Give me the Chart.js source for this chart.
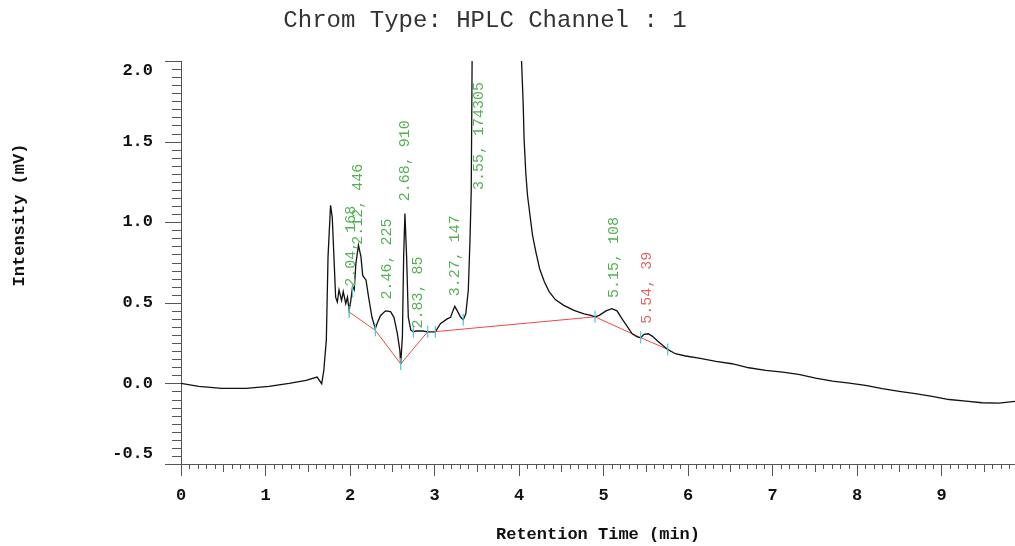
<!DOCTYPE html>
<html>
<head>
<meta charset="utf-8">
<script src="https://cdn.jsdelivr.net/npm/chart.js@4.4.0/dist/chart.umd.min.js"></script>
<style>
  html, body { margin: 0; padding: 0; background: #fff; }
</style>
</head>
<body>
<canvas id="chrom" width="1015" height="546"></canvas>
<script>
// detector trace (retention time in min, intensity in mV)
var retTime = [
  0.00, 0.21, 0.48, 0.77, 1.04, 1.28, 1.48, 1.61, 1.665, 1.69,
  1.72, 1.74, 1.77, 1.79, 1.81, 1.83, 1.85, 1.87, 1.90, 1.92,
  1.95, 1.97, 1.99, 2.01, 2.03, 2.05, 2.07, 2.10, 2.13, 2.15,
  2.19, 2.22, 2.26, 2.30, 2.32, 2.36, 2.42, 2.48, 2.52, 2.56,
  2.59, 2.60, 2.62, 2.635, 2.65, 2.67, 2.69, 2.72, 2.75, 2.78,
  2.86, 2.92, 3.01, 3.07, 3.15, 3.19, 3.22, 3.24, 3.27, 3.31,
  3.34, 3.37, 3.40, 3.42, 3.435, 3.46, 3.55, 3.80, 4.03, 4.05,
  4.06, 4.08, 4.10, 4.13, 4.16, 4.20, 4.245, 4.30, 4.355, 4.43,
  4.53, 4.65, 4.77, 4.85, 4.90, 4.95, 5.03, 5.10, 5.16, 5.22,
  5.28, 5.34, 5.40, 5.44, 5.48, 5.53, 5.58, 5.64, 5.70, 5.76,
  5.85, 5.97, 6.13, 6.33, 6.52, 6.72, 6.92, 7.12, 7.31, 7.51,
  7.71, 7.91, 8.10, 8.30, 8.50, 8.69, 8.89, 9.09, 9.29, 9.48,
  9.68, 9.87
];
var intensity = [
  0.000, -0.019, -0.031, -0.031, -0.019, 0.000, 0.019, 0.039, -0.002, 0.08,
  0.27, 0.785, 1.105, 1.03, 0.785, 0.535, 0.505, 0.58, 0.515, 0.57,
  0.495, 0.535, 0.453, 0.515, 0.60, 0.58, 0.745, 0.857, 0.785, 0.67,
  0.64, 0.535, 0.41, 0.34, 0.37, 0.42, 0.45, 0.445, 0.41, 0.31,
  0.205, 0.12, 0.29, 0.785, 1.054, 0.785, 0.41, 0.33, 0.32, 0.325,
  0.325, 0.32, 0.32, 0.37, 0.40, 0.41, 0.453, 0.478, 0.45, 0.41,
  0.395, 0.43, 0.578, 0.89, 1.2, 3.2, 6.5, 4.2, 2.006, 1.727,
  1.52, 1.31, 1.17, 1.043, 0.92, 0.815, 0.71, 0.63, 0.571, 0.52,
  0.484, 0.453, 0.432, 0.422, 0.413, 0.422, 0.45, 0.464, 0.45, 0.40,
  0.354, 0.308, 0.288, 0.283, 0.304, 0.308, 0.292, 0.263, 0.236, 0.211,
  0.184, 0.17, 0.157, 0.137, 0.122, 0.097, 0.081, 0.07, 0.056, 0.033,
  0.014, 0.002, -0.012, -0.033, -0.05, -0.064, -0.081, -0.10, -0.11, -0.12,
  -0.122, -0.112
];

// integration baselines (null = break between segments)
var baseTime  = [1.99, 2.30, 2.60, 2.92, 2.96, 3.01, 4.90, 5.44, 5.76];
var baseValue = [0.443, 0.329, 0.121, 0.321, null, 0.321, 0.413, 0.284, 0.211];

// peak start/end markers
var markTime  = [1.99, 2.03, 2.30, 2.60, 2.75, 2.92, 3.01, 3.34, 4.90, 5.44, 5.76];
var markValue = [0.443, 0.57, 0.33, 0.12, 0.32, 0.32, 0.32, 0.395, 0.413, 0.284, 0.211];

// peak table: retention time, area, and where the label starts (mV)
var peakRT    = ['2.04', '2.12', '2.46', '2.68', '2.83', '3.27', '3.55', '5.15', '5.54'];
var peakArea  = [168, 446, 225, 910, 85, 147, 174305, 108, 39];
var labelFrom = [0.60, 0.86, 0.52, 1.13, 0.34, 0.54, 1.20, 0.53, 0.37];
var rejected  = ['5.54'];

function pts(xs, ys) {
  return xs.map(function(x, i) { return { x: x, y: ys[i] }; });
}

var mono = '"Liberation Mono", "DejaVu Sans Mono", monospace';

var extras = {
  id: 'extras',
  afterDraw: function(chart) {
    var ctx = chart.ctx;
    var xs = chart.scales.x, ys = chart.scales.y, area = chart.chartArea;
    ctx.save();

    // minor / major tick marks
    ctx.strokeStyle = '#555';
    ctx.lineWidth = 1;
    ctx.beginPath();
    for (var i = 0; i <= 98; i++) {
      var px = Math.round(xs.getPixelForValue(i / 10)) + 0.5;
      var len = i % 10 === 0 ? 12 : (i % 5 === 0 ? 8 : 5);
      ctx.moveTo(px, area.bottom);
      ctx.lineTo(px, area.bottom + len);
    }
    for (var j = -10; j <= 40; j++) {
      var py = Math.round(ys.getPixelForValue(j / 20)) + 0.5;
      var l = j % 10 === 0 ? 16 : 9;
      ctx.moveTo(area.left, py);
      ctx.lineTo(area.left - l, py);
    }
    ctx.stroke();

    // chart title
    ctx.fillStyle = '#333';
    ctx.font = '24px ' + mono;
    ctx.textAlign = 'center';
    ctx.textBaseline = 'middle';
    ctx.fillText('Chrom Type: HPLC Channel : 1', 485, 21);

    // y axis title
    ctx.save();
    ctx.translate(20, 215);
    ctx.rotate(-Math.PI / 2);
    ctx.fillStyle = '#111';
    ctx.font = 'bold 17px ' + mono;
    ctx.fillText('Intensity (mV)', 0, 0);
    ctx.restore();

    // peak labels
    ctx.font = '15px ' + mono;
    ctx.textAlign = 'left';
    ctx.textBaseline = 'middle';
    for (var k = 0; k < peakRT.length; k++) {
      ctx.save();
      ctx.translate(xs.getPixelForValue(parseFloat(peakRT[k])) - 2, ys.getPixelForValue(labelFrom[k]));
      ctx.rotate(-Math.PI / 2);
      ctx.fillStyle = rejected.indexOf(peakRT[k]) >= 0 ? '#e06666' : '#55b055';
      ctx.fillText(peakRT[k] + ', ' + peakArea[k], 0, 0);
      ctx.restore();
    }
    ctx.restore();
  }
};

var chart = new Chart(document.getElementById('chrom'), {
  type: 'line',
  data: {
    datasets: [{
      label: 'markers',
      data: pts(markTime, markValue),
      showLine: false,
      pointStyle: 'line',
      rotation: 90,
      pointRadius: 6,
      borderColor: '#45c8da',
      pointBorderWidth: 1.2,
      order: 0
    }, {
      label: 'trace',
      data: pts(retTime, intensity),
      borderColor: '#111',
      borderWidth: 1.3,
      pointRadius: 0,
      tension: 0,
      order: 1
    }, {
      label: 'baseline',
      data: pts(baseTime, baseValue),
      borderColor: '#f04848',
      borderWidth: 1,
      pointRadius: 0,
      spanGaps: false,
      order: 2
    }]
  },
  options: {
    responsive: false,
    animation: false,
    devicePixelRatio: 1,
    layout: { autoPadding: false, padding: { top: 61, left: 0, right: 0, bottom: 0 } },
    plugins: {
      legend: { display: false },
      tooltip: { enabled: false },
      title: { display: false }
    },
    scales: {
      x: {
        type: 'linear',
        min: 0,
        max: 9.87,
        afterFit: function(s) { s.height = 82; s.paddingRight = 0; },
        ticks: {
          stepSize: 1,
          autoSkip: false,
          maxRotation: 0,
          padding: 22,
          color: '#111',
          font: { family: mono, size: 17, weight: 'bold' },
          callback: function(v) {
            return Math.abs(v - Math.round(v)) < 1e-9 ? String(Math.round(v)) : '';
          }
        },
        grid: { display: false, drawTicks: false },
        border: { display: true, color: '#555', width: 1 },
        title: {
          display: true,
          text: 'Retention Time (min)',
          color: '#111',
          font: { family: mono, size: 17, weight: 'bold' },
          padding: { top: 0, bottom: 1 }
        }
      },
      y: {
        type: 'linear',
        min: -0.5,
        max: 2.0,
        afterFit: function(s) { s.width = 181; },
        ticks: {
          stepSize: 0.5,
          padding: 28,
          color: '#111',
          font: { family: mono, size: 17, weight: 'bold' },
          callback: function(v) {
            var s = v.toFixed(1);
            if (Math.abs(v - 2) < 1e-9) return ['', s];
            if (Math.abs(v + 0.5) < 1e-9) return [s, ''];
            return s;
          }
        },
        grid: { display: false, drawTicks: false },
        border: { display: true, color: '#555', width: 1 }
      }
    }
  },
  plugins: [extras]
});
</script>
</body>
</html>
